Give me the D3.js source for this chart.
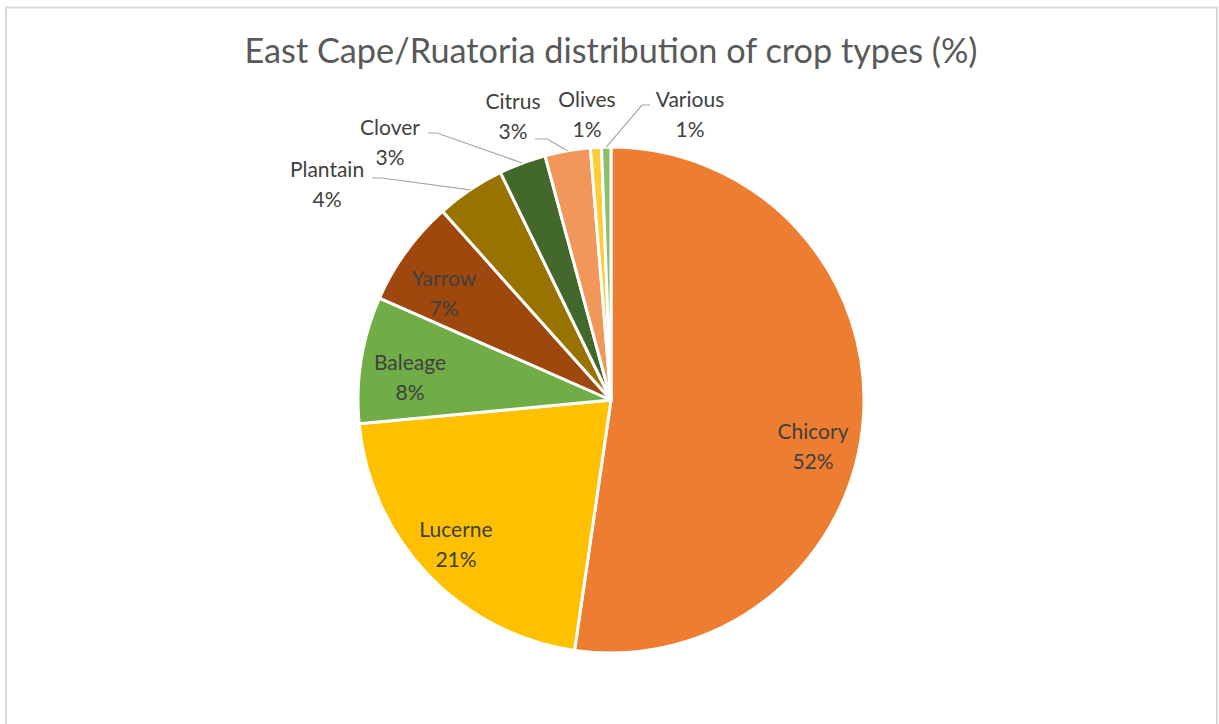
<!DOCTYPE html>
<html>
<head>
<meta charset="utf-8">
<script src="https://cdn.jsdelivr.net/npm/d3@7"></script>
<style>
  html, body { margin: 0; padding: 0; background: #fff; }
  svg { display: block; font-family: Lato, "Open Sans", sans-serif; }
</style>
</head>
<body>
<svg id="chart" width="1219" height="724"></svg>
<script>
// ── Data ──
const crops = ["Chicory", "Lucerne", "Baleage", "Yarrow", "Plantain", "Clover", "Citrus", "Olives", "Various"];
const shares = [52.3, 21.2, 8.1, 6.8, 4.4, 3.0, 2.9, 0.7, 0.6];
const sliceColors = ["#ED7D31", "#FFC000", "#70AD47", "#9E480E", "#997300", "#43682B", "#F1975A", "#FFCD33", "#8CC168"];
const title = "East Cape/Ruatoria distribution of crop types (%)";

// ── Layout (label anchors relative to pie centre, manual like the original) ──
const W = 1219, H = 724;
const cx = 611, cy = 400, R = 253;
const labelLayout = {
  Chicory:  { dx: 202,  dy: 39 },
  Lucerne:  { dx: -155, dy: 137 },
  Baleage:  { dx: -201, dy: -30 },
  Yarrow:   { dx: -167, dy: -114 },
  Plantain: { dx: -284, dy: -223, leader: { x: -239, y: -222, elbow: -229 } },
  Clover:   { dx: -221, dy: -265, leader: { x: -183, y: -267, elbow: -174 } },
  Citrus:   { dx: -98,  dy: -291, leader: { x: -76,  y: -261, elbow: -64 } },
  Olives:   { dx: -24,  dy: -293 },
  Various:  { dx: 79,   dy: -293, leader: { x: 39,   y: -295, elbow: 31 } }
};
const lineGap = 30;

const svg = d3.select("#chart");

// chart frame
svg.append("rect")
  .attr("x", 6).attr("y", 7.5)
  .attr("width", W - 8).attr("height", H + 20)
  .attr("fill", "#fff")
  .attr("stroke", "#d9d9d9")
  .attr("stroke-width", 2);

// ── Title, fitted to the original width ──
const titleText = svg.append("text")
  .attr("x", cx).attr("y", 63)
  .attr("text-anchor", "middle")
  .attr("fill", "#595959")
  .attr("font-size", 32)
  .text(title);
const tw = titleText.node().getComputedTextLength();
titleText.attr("font-size", 32 * 733 / tw);

// ── Pie ──
const total = d3.sum(shares);
const data = crops.map((name, i) => ({ name, value: shares[i], color: sliceColors[i] }));
const pie = d3.pie().sort(null).value(d => d.value);
const arcs = pie(data);
const arc = d3.arc().innerRadius(0).outerRadius(R);
const pct = v => Math.round(v / total * 100) + "%";

const g = svg.append("g").attr("transform", `translate(${cx},${cy})`);

g.selectAll("path.slice")
  .data(arcs)
  .join("path")
  .attr("class", "slice")
  .attr("d", arc)
  .attr("fill", d => d.data.color)
  .attr("stroke", "#fff")
  .attr("stroke-width", 3)
  .attr("stroke-linejoin", "round");

// ── Leader lines ──
const edge = d => {
  const a = (d.startAngle + d.endAngle) / 2;
  return [R * Math.sin(a), -R * Math.cos(a)];
};
g.selectAll("path.leader")
  .data(arcs.filter(d => labelLayout[d.data.name].leader))
  .join("path")
  .attr("class", "leader")
  .attr("fill", "none")
  .attr("stroke", "#a6a6a6")
  .attr("stroke-width", 1.2)
  .attr("d", d => {
    const L = labelLayout[d.data.name].leader;
    const [ex, ey] = edge(d);
    return `M${L.x},${L.y}H${L.elbow}L${ex},${ey}`;
  });

// ── Data labels ──
const labels = g.selectAll("text.label")
  .data(arcs)
  .join("text")
  .attr("class", "label")
  .attr("text-anchor", "middle")
  .attr("fill", "#404040")
  .attr("font-size", 21)
  .attr("transform", d => {
    const p = labelLayout[d.data.name];
    return `translate(${p.dx},${p.dy})`;
  });
labels.append("tspan").attr("x", 0).attr("y", 0).text(d => d.data.name);
labels.append("tspan").attr("x", 0).attr("y", lineGap).text(d => pct(d.data.value));
</script>
</body>
</html>
